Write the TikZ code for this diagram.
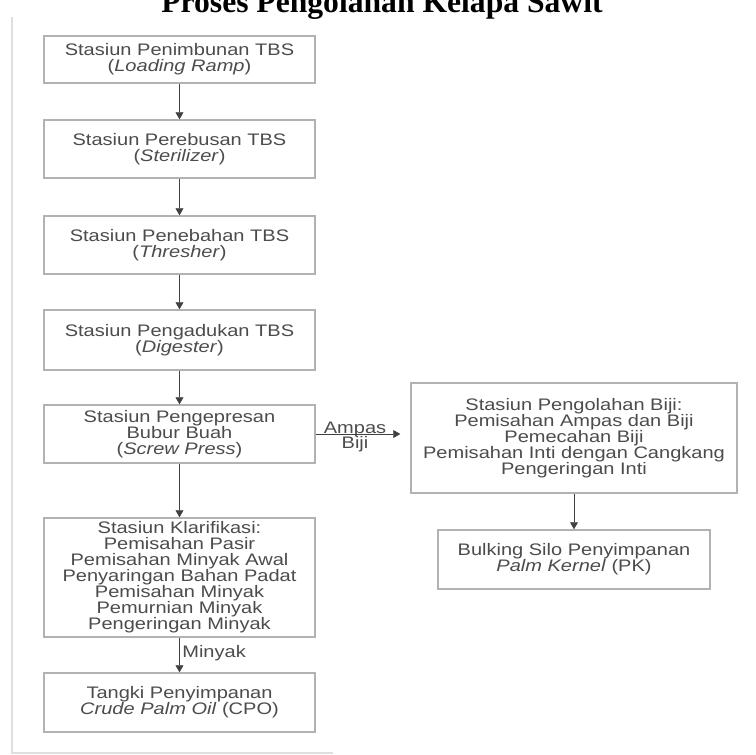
\documentclass[tikz,border=0pt]{standalone}
\usepackage{fontspec}
\setmainfont{Liberation Serif}
\newfontfamily\boxfont[FakeStretch=1.2]{Liberation Sans}
\usetikzlibrary{arrows.meta}

\begin{document}
\begin{tikzpicture}[x=0.02cm,y=-0.02cm,shorten >=0pt,>={Triangle[length=4pt,width=4.5pt]}]
\tikzstyle{stasiun}=[rectangle,draw=gray!60,line width=0.8pt,fill=white,text=black!70,align=center,font=\boxfont\fontsize{9.5}{9.1}\selectfont,minimum width=5.42cm,inner sep=0pt]
\tikzstyle{ket}=[text=black!70,font=\boxfont\fontsize{9.5}{9.1}\selectfont,inner sep=0pt]
\useasboundingbox (0,0) rectangle (755,755);
\draw[gray!25,line width=0.05cm] (12,17) -- (12,753) -- (333,753);

\node[font=\bfseries\fontsize{18}{20}\selectfont,anchor=base](judul) at (382,12) {Proses Pengolahan Kelapa Sawit};

\node[stasiun,minimum height=0.94cm](TBS) at (179.5,59.5) {Stasiun Penimbunan TBS\\(\textit{Loading Ramp})};
\node[stasiun,minimum height=1.16cm](RBS) at (179.5,149) {Stasiun Perebusan TBS\\(\textit{Sterilizer})};
\node[stasiun,minimum height=1.16cm](TRS) at (179.5,245) {Stasiun Penebahan TBS\\(\textit{Thresher})};
\node[stasiun,minimum height=1.2cm](DIG) at (179.5,340) {Stasiun Pengadukan TBS\\(\textit{Digester})};
\node[stasiun,minimum height=1.16cm](PRS) at (179.5,434) {Stasiun Pengepresan\\Bubur Buah\\(\textit{Screw Press})};
\node[stasiun,minimum height=2.38cm](KLR) at (179.5,577.5) {Stasiun Klarifikasi:\\Pemisahan Pasir\\Pemisahan Minyak Awal\\Penyaringan Bahan Padat\\Pemisahan Minyak\\Pemurnian Minyak\\Pengeringan Minyak};
\node[stasiun,minimum height=1.18cm](CPO) at (179.5,702.5) {Tangki Penyimpanan\\\textit{Crude Palm Oil} (CPO)};

\node[stasiun,minimum width=6.52cm,minimum height=2.2cm](BIJ) at (574,438) {Stasiun Pengolahan Biji:\\Pemisahan Ampas dan Biji\\Pemecahan Biji\\Pemisahan Inti dengan Cangkang\\Pengeringan Inti};
\node[stasiun,minimum width=5.44cm,minimum height=1.18cm](PK) at (574,559.5) {Bulking Silo Penyimpanan\\\textit{Palm Kernel} (PK)};

\node[ket](ampas) at (355,429) {Ampas};
\node[ket](biji) at (355,444) {Biji};
\node[ket,anchor=west](minyak) at (182,653) {Minyak};

\draw[->,black!75] (TBS) -- (RBS);
\draw[->,black!75] (RBS) -- (TRS);
\draw[->,black!75] (TRS) -- (DIG);
\draw[->,black!75] (DIG) -- (PRS);
\draw[->,black!75] (PRS) -- (KLR);
\draw[->,black!75] (KLR) -- (CPO);
\draw[->,black!75,shorten >=0.2cm] (PRS.east) -- (PRS.east -| BIJ.west);
\draw[->,black!75] (BIJ) -- (PK);
\end{tikzpicture}
\end{document}
